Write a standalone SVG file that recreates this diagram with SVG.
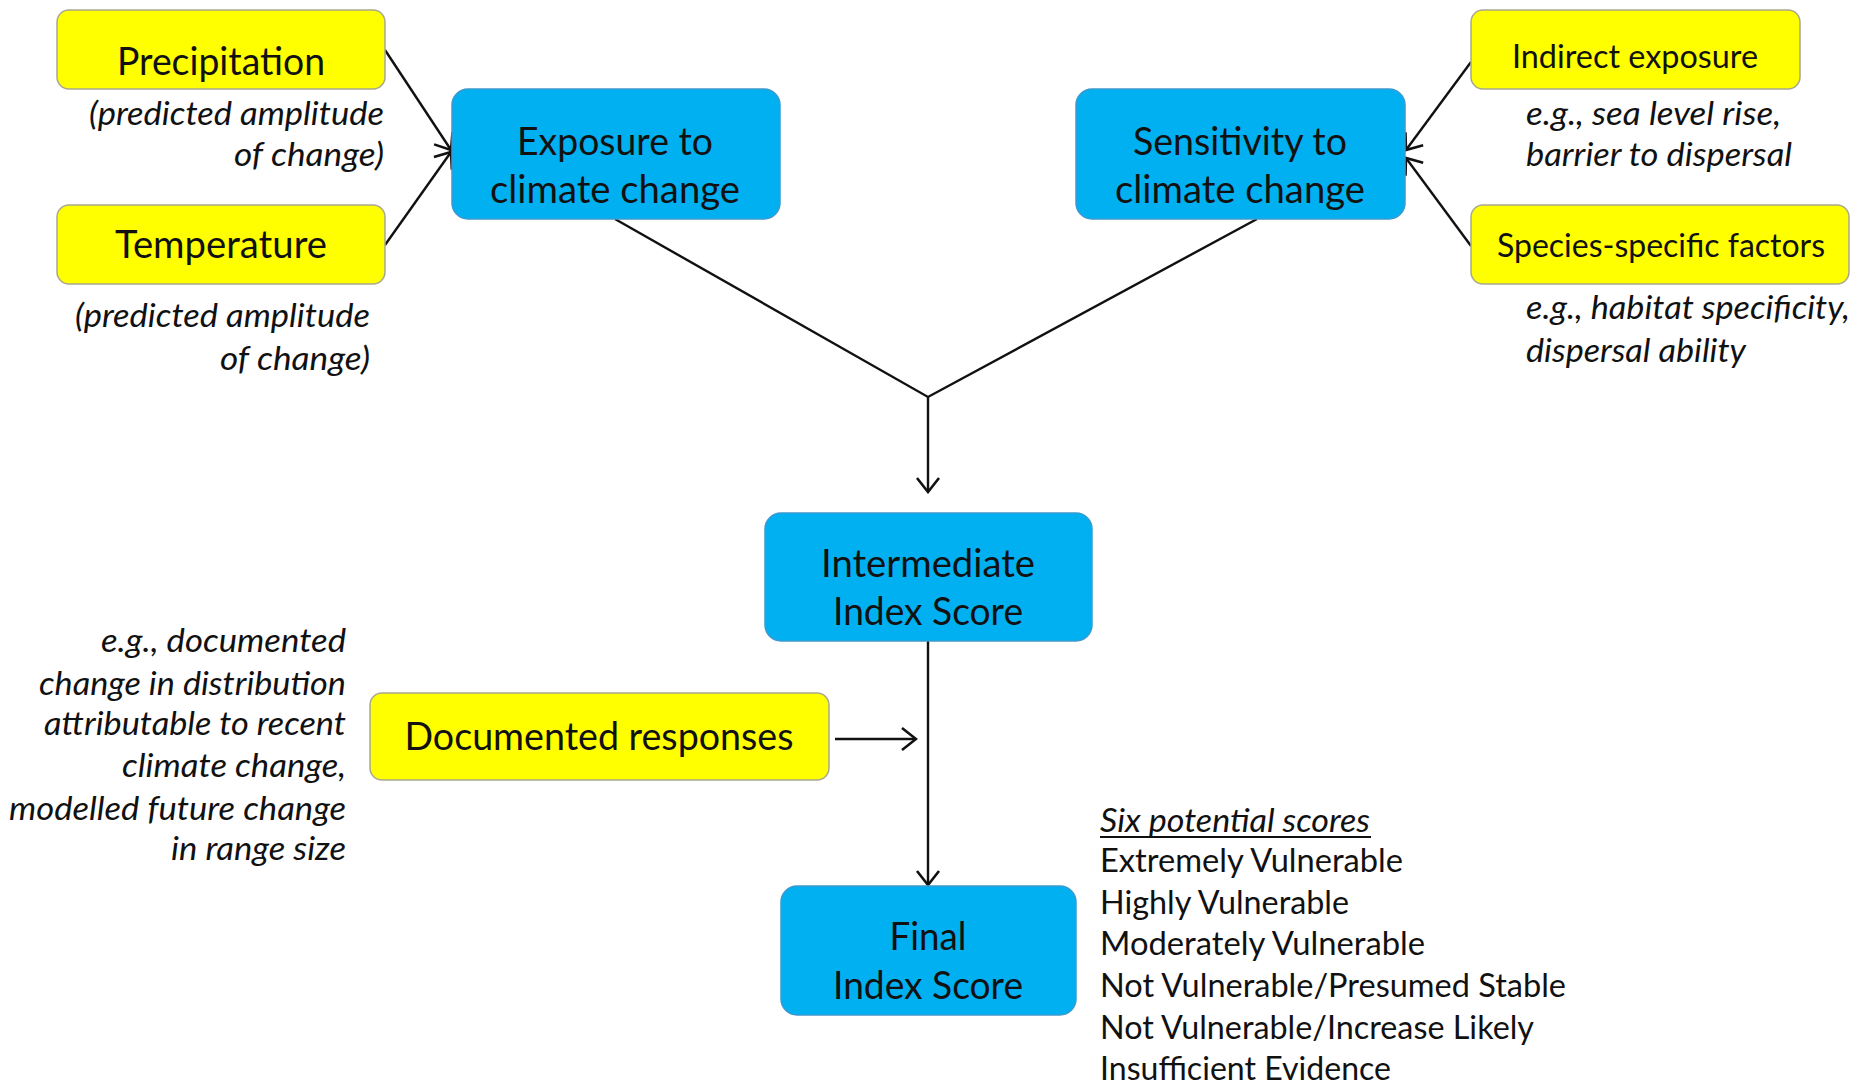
<svg xmlns="http://www.w3.org/2000/svg" width="1865" height="1088" viewBox="0 0 1865 1088">
<style>
.y{fill:#FFFF00;stroke:#A8A890;stroke-width:1.5}
.b{fill:#00B0F0;stroke:#3A9AD0;stroke-width:1.5}
text{font-family:Lato,"Liberation Sans",sans-serif;fill:#111}
.t{font-size:39px;text-anchor:middle}
.s{font-size:33px;text-anchor:middle}
.i{font-size:32px;font-style:italic}
.r{text-anchor:end}
.l{font-size:32px}
.c{stroke:#111;stroke-width:2.4;fill:none}
</style>
<defs>
<marker id="a" viewBox="0 0 18 26" refX="16" refY="13" markerWidth="18" markerHeight="26" markerUnits="userSpaceOnUse" orient="auto">
<path d="M2,2 L16,13 L2,24" fill="none" stroke="#111" stroke-width="2.6"/>
</marker>
</defs>
<rect width="1865" height="1088" fill="#fff"/>
<g id="connectors">
<line class="c" x1="385" y1="50" x2="451" y2="150" marker-end="url(#a)"/>
<line class="c" x1="385" y1="245" x2="451" y2="152" marker-end="url(#a)"/>
<line class="c" x1="1471" y1="62" x2="1406" y2="150" marker-end="url(#a)"/>
<line class="c" x1="1471" y1="246" x2="1406" y2="158" marker-end="url(#a)"/>
<polyline class="c" points="615,219 928,397 1257,219"/>
<line class="c" x1="928" y1="397" x2="928" y2="492" marker-end="url(#a)"/>
<line class="c" x1="928" y1="641" x2="928" y2="885" marker-end="url(#a)"/>
<line class="c" x1="835" y1="739" x2="916" y2="739" marker-end="url(#a)"/>
</g>
<g id="precipitation">
<rect class="y" x="57" y="10" width="328" height="79" rx="12"/>
<text class="t" x="221" y="75" textLength="208" lengthAdjust="spacingAndGlyphs">Precipitation</text>
<text class="i r" x="384" y="125" textLength="295" lengthAdjust="spacingAndGlyphs">(predicted amplitude</text>
<text class="i r" x="384" y="166" textLength="150" lengthAdjust="spacingAndGlyphs">of change)</text>
</g>
<g id="temperature">
<rect class="y" x="57" y="205" width="328" height="79" rx="12"/>
<text class="t" x="221" y="258" textLength="212" lengthAdjust="spacingAndGlyphs">Temperature</text>
<text class="i r" x="370" y="327" textLength="295" lengthAdjust="spacingAndGlyphs">(predicted amplitude</text>
<text class="i r" x="370" y="370" textLength="150" lengthAdjust="spacingAndGlyphs">of change)</text>
</g>
<g id="exposure">
<rect class="b" x="452" y="89" width="328" height="130" rx="16"/>
<text class="t" x="615" y="155" textLength="196" lengthAdjust="spacingAndGlyphs">Exposure to</text>
<text class="t" x="615" y="203" textLength="250" lengthAdjust="spacingAndGlyphs">climate change</text>
</g>
<g id="sensitivity">
<rect class="b" x="1076" y="89" width="329" height="130" rx="16"/>
<text class="t" x="1240" y="155" textLength="214" lengthAdjust="spacingAndGlyphs">Sensitivity to</text>
<text class="t" x="1240" y="203" textLength="250" lengthAdjust="spacingAndGlyphs">climate change</text>
</g>
<g id="indirect">
<rect class="y" x="1471" y="10" width="329" height="79" rx="12"/>
<text class="s" x="1635" y="68" textLength="246" lengthAdjust="spacingAndGlyphs">Indirect exposure</text>
<text class="i" x="1526" y="125" textLength="255" lengthAdjust="spacingAndGlyphs">e.g., sea level rise,</text>
<text class="i" x="1526" y="166" textLength="266" lengthAdjust="spacingAndGlyphs">barrier to dispersal</text>
</g>
<g id="species">
<rect class="y" x="1471" y="205" width="378" height="79" rx="12"/>
<text class="s" x="1661" y="257" textLength="328" lengthAdjust="spacingAndGlyphs">Species-specific factors</text>
<text class="i" x="1526" y="319" textLength="324" lengthAdjust="spacingAndGlyphs">e.g., habitat specificity,</text>
<text class="i" x="1526" y="362" textLength="220" lengthAdjust="spacingAndGlyphs">dispersal ability</text>
</g>
<g id="intermediate">
<rect class="b" x="765" y="513" width="327" height="128" rx="16"/>
<text class="t" x="928" y="577" textLength="214" lengthAdjust="spacingAndGlyphs">Intermediate</text>
<text class="t" x="928" y="625" textLength="190" lengthAdjust="spacingAndGlyphs">Index Score</text>
</g>
<g id="documented">
<rect class="y" x="370" y="693" width="459" height="87" rx="12"/>
<text class="t" x="599" y="750" textLength="389" lengthAdjust="spacingAndGlyphs">Documented responses</text>
<text class="i r" x="346" y="652" textLength="245" lengthAdjust="spacingAndGlyphs">e.g., documented</text>
<text class="i r" x="346" y="695" textLength="307" lengthAdjust="spacingAndGlyphs">change in distribution</text>
<text class="i r" x="346" y="735" textLength="302" lengthAdjust="spacingAndGlyphs">attributable to recent</text>
<text class="i r" x="346" y="777" textLength="224" lengthAdjust="spacingAndGlyphs">climate change,</text>
<text class="i r" x="346" y="820" textLength="337" lengthAdjust="spacingAndGlyphs">modelled future change</text>
<text class="i r" x="346" y="860" textLength="175" lengthAdjust="spacingAndGlyphs">in range size</text>
</g>
<g id="final">
<rect class="b" x="781" y="886" width="295" height="129" rx="16"/>
<text class="t" x="928" y="950" textLength="77" lengthAdjust="spacingAndGlyphs">Final</text>
<text class="t" x="928" y="999" textLength="190" lengthAdjust="spacingAndGlyphs">Index Score</text>
</g>
<g id="scores">
<text class="i" x="1100" y="832" textLength="270" lengthAdjust="spacingAndGlyphs">Six potential scores</text>
<line x1="1100" y1="837" x2="1371" y2="837" stroke="#111" stroke-width="1.8"/>
<text class="l" x="1100" y="872" textLength="303" lengthAdjust="spacingAndGlyphs">Extremely Vulnerable</text>
<text class="l" x="1100" y="914" textLength="249" lengthAdjust="spacingAndGlyphs">Highly Vulnerable</text>
<text class="l" x="1100" y="955" textLength="325" lengthAdjust="spacingAndGlyphs">Moderately Vulnerable</text>
<text class="l" x="1100" y="997" textLength="466" lengthAdjust="spacingAndGlyphs">Not Vulnerable/Presumed Stable</text>
<text class="l" x="1100" y="1039" textLength="434" lengthAdjust="spacingAndGlyphs">Not Vulnerable/Increase Likely</text>
<text class="l" x="1100" y="1080" textLength="291" lengthAdjust="spacingAndGlyphs">Insufficient Evidence</text>
</g>
</svg>
